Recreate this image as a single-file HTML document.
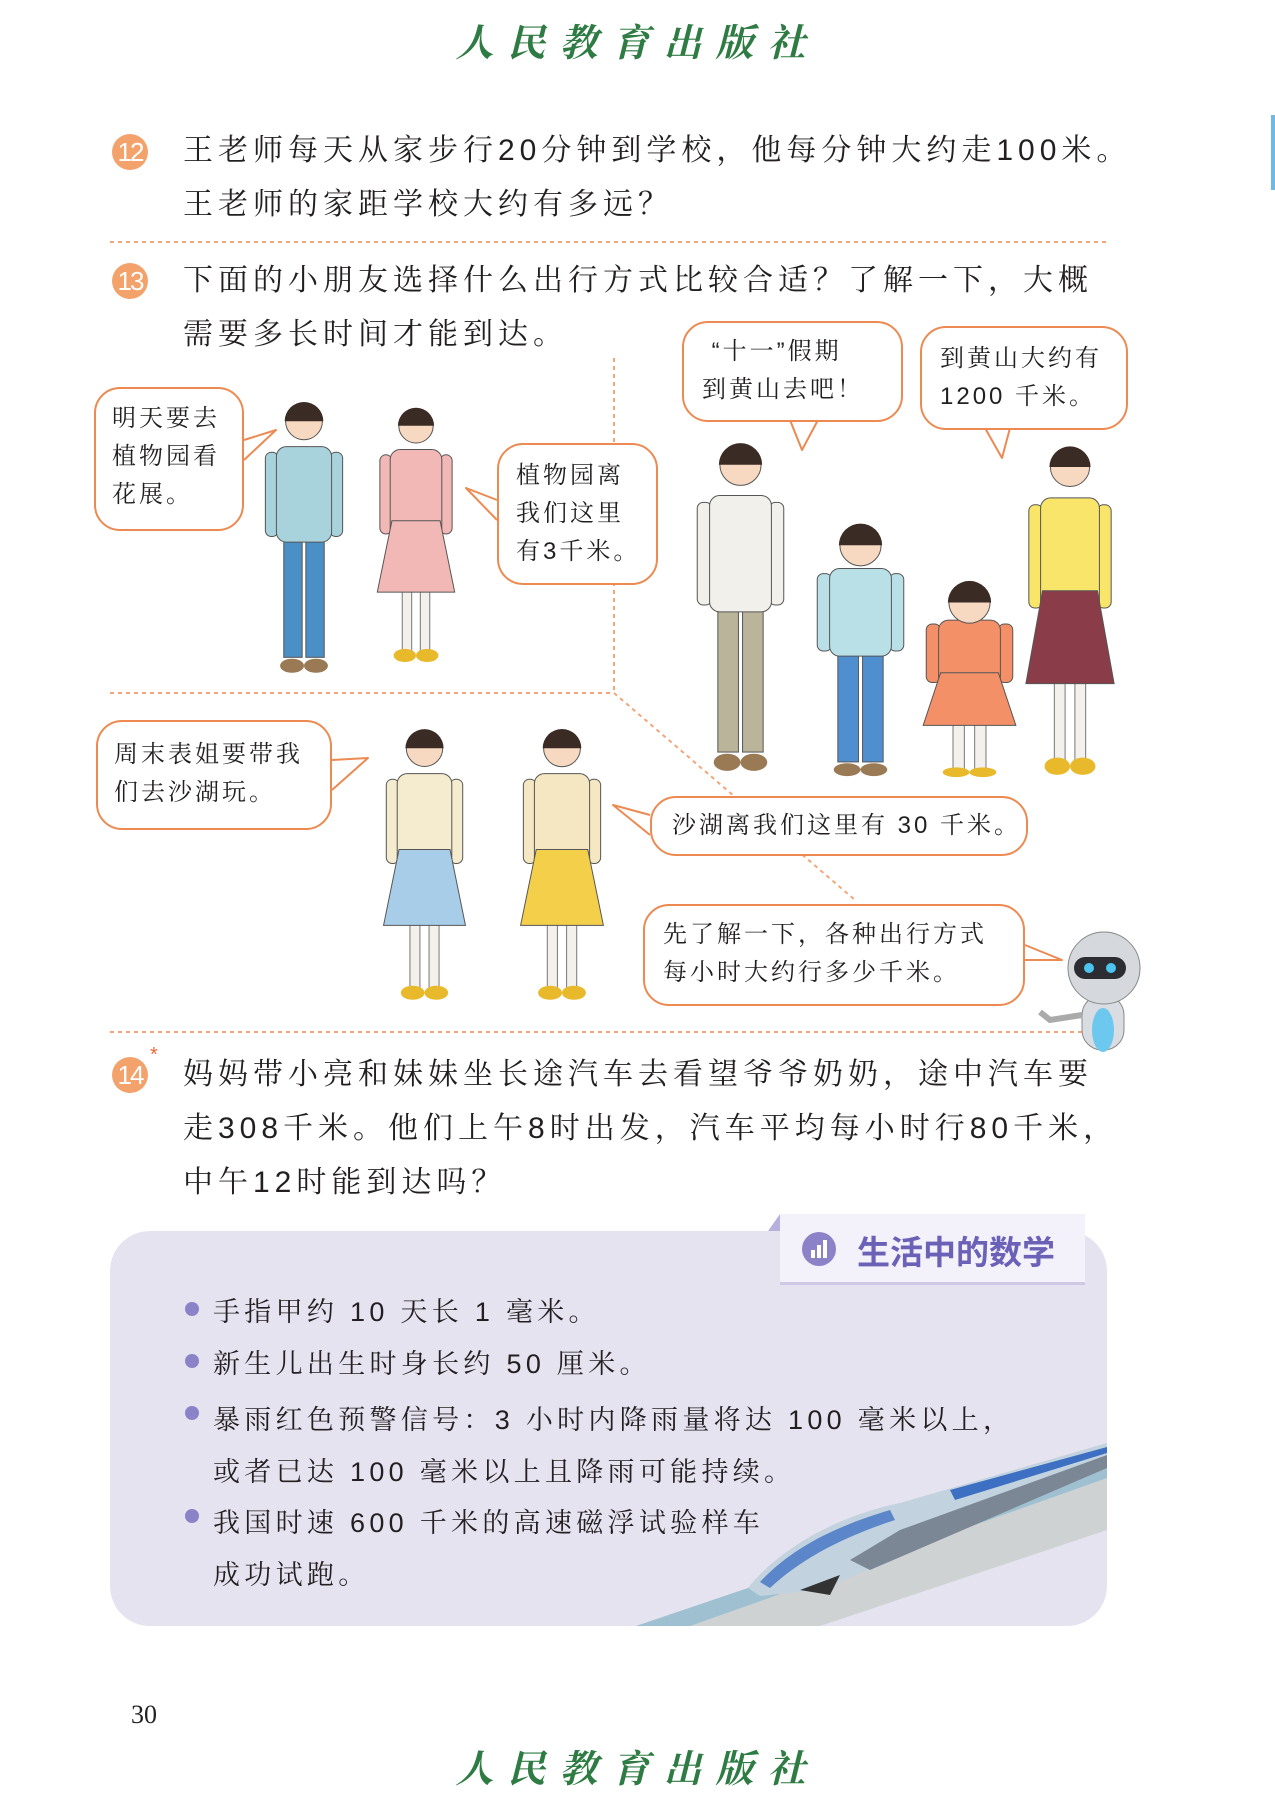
<!DOCTYPE html>
<html><head><meta charset="utf-8">
<style>
html,body{margin:0;padding:0;background:#fff;}
body{width:1275px;height:1800px;position:relative;overflow:hidden;font-family:"Liberation Sans","Noto Serif CJK SC",serif;color:#231f20;}
.abs{position:absolute;}
.t{font-size:30px;letter-spacing:5px;white-space:nowrap;line-height:54px;}
.num{position:absolute;width:36px;height:36px;border-radius:50%;background:#f3a26b;color:#fff;font-family:"Liberation Sans",sans-serif;font-size:26px;line-height:36px;text-align:center;letter-spacing:-2px;}
.bub{position:absolute;border:2px solid #ec8a52;border-radius:26px;background:#fff;font-size:24px;line-height:38px;letter-spacing:3px;padding:0;box-sizing:border-box;white-space:nowrap;}
.logo{position:absolute;left:0;width:1275px;text-align:center;font-family:"Noto Serif CJK SC",serif;font-style:italic;font-weight:bold;color:#2e7b43;font-size:38px;letter-spacing:14px;}
.li{position:absolute;left:213px;font-size:27px;letter-spacing:4.3px;white-space:nowrap;}
.dot{position:absolute;left:185px;width:14px;height:14px;border-radius:50%;background:#8c82c8;}
</style></head>
<body>
<div class="logo" style="top:12px;">人民教育出版社</div>
<div class="abs" style="left:1271px;top:115px;width:4px;height:75px;background:#6fb9e6;"></div>

<div class="num" style="left:112px;top:134px;">12</div>
<div class="abs t" style="left:183px;top:124px;">王老师每天从家步行20分钟到学校，他每分钟大约走100米。<br>王老师的家距学校大约有多远？</div>

<div class="num" style="left:112px;top:263px;">13</div>
<div class="abs t" style="left:183px;top:254px;">下面的小朋友选择什么出行方式比较合适？了解一下，大概<br>需要多长时间才能到达。</div>

<svg class="abs" style="left:0;top:0" width="1275" height="1800">
 <g stroke="#f2a67a" stroke-width="2" stroke-dasharray="4 4" fill="none">
  <line x1="110" y1="242" x2="1107" y2="242"/>
  <line x1="614" y1="358" x2="614" y2="693"/>
  <line x1="110" y1="693" x2="614" y2="693"/>
  <line x1="614" y1="693" x2="855" y2="900"/>
  <line x1="110" y1="1032" x2="1107" y2="1032"/>
 </g>
 <g id="people"></g>
 <g fill="#fff" stroke="#ec8a52" stroke-width="2" stroke-linejoin="round">
  <polyline points="244,440 276,430 244,460"/>
  <polyline points="497,500 466,488 497,520"/>
  <polyline points="790,420 802,450 818,420"/>
  <polyline points="985,428 1002,458 1010,428"/>
  <polyline points="332,760 368,758 332,790"/>
  <polyline points="650,815 613,805 650,835"/>
  <polyline points="1025,945 1062,960 1025,960"/>
 </g>
 <g>
  <rect x="1082" y="995" width="42" height="55" rx="20" fill="#d9dde2" stroke="#888"/>
  <ellipse cx="1103" cy="1030" rx="11" ry="22" fill="#6cc8ef"/>
  <circle cx="1104" cy="968" r="36" fill="#d5d9de" stroke="#888"/>
  <rect x="1074" y="957" width="52" height="22" rx="11" fill="#2b2d33"/>
  <circle cx="1089" cy="968" r="5" fill="#4cc4f0"/><circle cx="1111" cy="968" r="5" fill="#4cc4f0"/>
  <path d="M1082 1015 L1050 1020 L1040 1012" stroke="#aaa" stroke-width="6" fill="none"/>
 </g>
 <rect x="110" y="1231" width="997" height="395" rx="40" fill="#e6e3f1"/>
 <polygon points="768,1231 780,1214 780,1231" fill="#b8b0dc"/>
 <rect x="780" y="1214" width="305" height="70" fill="#f3f1fa"/>
 <rect x="780" y="1282" width="305" height="3" fill="#cfc9e6"/>
 <circle cx="819" cy="1249" r="17" fill="#8c82c8"/>
 <rect x="811" y="1250" width="4" height="8" fill="#fff"/><rect x="817" y="1245" width="4" height="13" fill="#fff"/><rect x="823" y="1240" width="4" height="18" fill="#fff"/>
 <g>
  <polygon points="636,1626 1107,1470 1107,1530 820,1626" fill="#cfd2d2"/>
  <polygon points="636,1626 1107,1466 1107,1478 690,1626" fill="#9fc0d0"/>
  <path d="M748,1588 C770,1560 820,1520 900,1503 L1107,1443 L1107,1468 L820,1590 L760,1596 Z" fill="#c2d2de"/>
  <path d="M760,1582 C790,1550 830,1528 890,1510 L895,1520 C840,1538 800,1560 770,1588 Z" fill="#5b86c9"/>
  <path d="M900,1530 L1107,1455 L1107,1468 L870,1570 L850,1560 Z" fill="#7b8795"/>
  <path d="M950,1490 L1107,1447 L1107,1453 L955,1500 Z" fill="#3d70c2"/>
  <path d="M800,1590 L840,1575 L830,1595 Z" fill="#333"/>
 </g>
</svg>

<div class="bub" style="left:94px;top:387px;width:150px;height:144px;padding:11px 0 0 16px;">明天要去<br>植物园看<br>花展。</div>
<div class="bub" style="left:497px;top:443px;width:161px;height:142px;padding:12px 0 0 17px;">植物园离<br>我们这里<br>有3千米。</div>
<div class="bub" style="left:682px;top:321px;width:221px;height:101px;padding:10px 0 0 18px;">&nbsp;“十一”假期<br>到黄山去吧！</div>
<div class="bub" style="left:920px;top:326px;width:208px;height:104px;padding:12px 0 0 18px;">到黄山大约有<br>1200 千米。</div>
<div class="bub" style="left:96px;top:720px;width:236px;height:110px;padding:14px 0 0 16px;">周末表姐要带我<br>们去沙湖玩。</div>
<div class="bub" style="left:650px;top:796px;width:378px;height:60px;padding:9px 0 0 20px;">沙湖离我们这里有 30 千米。</div>
<div class="bub" style="left:643px;top:904px;width:382px;height:102px;padding:10px 0 0 18px;">先了解一下，各种出行方式<br>每小时大约行多少千米。</div>

<div class="num" style="left:112px;top:1057px;">14</div>
<div class="abs" style="left:150px;top:1044px;color:#ec6a3a;font-size:20px;">*</div>
<div class="abs t" style="left:183px;top:1048px;">妈妈带小亮和妹妹坐长途汽车去看望爷爷奶奶，途中汽车要<br>走308千米。他们上午8时出发，汽车平均每小时行80千米，<br>中午12时能到达吗？</div>

<div class="abs" style="left:857px;top:1226px;font-family:'Liberation Sans','Noto Sans CJK SC',sans-serif;font-size:33px;color:#6b62b8;font-weight:bold;">生活中的数学</div>

<div class="dot" style="top:1302px;"></div>
<div class="li" style="top:1290px;">手指甲约 10 天长 1 毫米。</div>
<div class="dot" style="top:1354px;"></div>
<div class="li" style="top:1342px;">新生儿出生时身长约 50 厘米。</div>
<div class="dot" style="top:1406px;"></div>
<div class="li" style="top:1394px;line-height:52px;">暴雨红色预警信号：3 小时内降雨量将达 100 毫米以上，<br>或者已达 100 毫米以上且降雨可能持续。</div>
<div class="dot" style="top:1509px;"></div>
<div class="li" style="top:1497px;line-height:52px;">我国时速 600 千米的高速磁浮试验样车<br>成功试跑。</div>

<div class="abs" style="left:131px;top:1700px;font-size:26px;font-family:'Liberation Serif',serif;">30</div>
<div class="logo" style="top:1738px;">人民教育出版社</div>

<script>
const NS='http://www.w3.org/2000/svg';
const g=document.getElementById('people');
function mk(tag,a,parent){const e=document.createElementNS(NS,tag);for(const k in a)e.setAttribute(k,a[k]);parent.appendChild(e);return e;}
function person(name,x,y,w,h,top,bottom,skirt){
 const p=mk('g',{},g);
 
 
 const cx=x+w/2;
 if(skirt){
  mk('rect',{x:cx-w*0.16,y:y+h*0.7,width:w*0.11,height:h*0.25,fill:'#f4f1ec',stroke:'#777'},p);
  mk('rect',{x:cx+w*0.05,y:y+h*0.7,width:w*0.11,height:h*0.25,fill:'#f4f1ec',stroke:'#777'},p);
 } else {
  mk('rect',{x:cx-w*0.22,y:y+h*0.5,width:w*0.2,height:h*0.43,fill:bottom,stroke:'#555'},p);
  mk('rect',{x:cx+w*0.02,y:y+h*0.5,width:w*0.2,height:h*0.43,fill:bottom,stroke:'#555'},p);
 }
 mk('ellipse',{cx:cx-w*0.13,cy:y+h*0.96,rx:w*0.13,ry:h*0.025,fill:skirt?'#e9b92c':'#9a7a55'},p);
 mk('ellipse',{cx:cx+w*0.13,cy:y+h*0.96,rx:w*0.13,ry:h*0.025,fill:skirt?'#e9b92c':'#9a7a55'},p);
 mk('rect',{x:x+w*0.08,y:y+h*0.2,width:w*0.14,height:h*0.3,rx:6,fill:top,stroke:'#555'},p);
 mk('rect',{x:x+w*0.78,y:y+h*0.2,width:w*0.14,height:h*0.3,rx:6,fill:top,stroke:'#555'},p);
 mk('rect',{x:x+w*0.2,y:y+h*0.18,width:w*0.6,height:h*0.34,rx:10,fill:top,stroke:'#555'},p);
 if(skirt) mk('polygon',{points:`${x+w*0.22},${y+h*0.45} ${x+w*0.78},${y+h*0.45} ${x+w*0.95},${y+h*0.72} ${x+w*0.05},${y+h*0.72}`,fill:bottom,stroke:'#555'},p);
 mk('circle',{cx:cx,cy:y+h*0.09,r:w*0.2,fill:'#f7d9c2',stroke:'#555'},p);
 mk('path',{d:`M${cx-w*0.21},${y+h*0.09} A${w*0.21},${w*0.21} 0 0 1 ${cx+w*0.21},${y+h*0.09} Z`,fill:'#3a2b24'},p);
}
person('boy-with-backpack',258,396,92,281,'#a9d3dc','#4a8fc6',false);
person('girl-pink-dress',373,402,86,264,'#f2b8b6','#f2b8b6',true);
person('father',689,434,103,342,'#f1f0ea','#b9b49a',false);
person('son',809,522,103,258,'#b9e0e6','#4f8fd0',false);
person('daughter',918,585,103,195,'#f39068','#f39068',true);
person('mother',1021,436,98,344,'#f8e56a','#8b3c49',true);
person('girl-blue-dress',379,723,91,281,'#f5eccf','#a7cde9',true);
person('girl-yellow-skirt',516,723,92,281,'#f5e7c2','#f4cf4a',true);
</script>
</body></html>
